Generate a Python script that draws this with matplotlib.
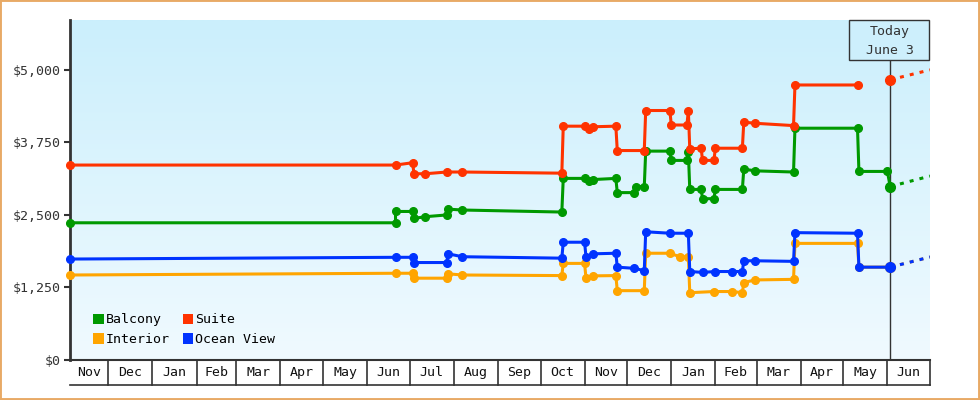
import numpy as np
import matplotlib
matplotlib.use("Agg")
import matplotlib.pyplot as plt
import matplotlib.dates as mdates
from matplotlib.patches import Rectangle, Patch
from matplotlib.colors import LinearSegmentedColormap

plt.rcParams['font.family'] = ['DejaVu Sans Mono', 'DejaVu Sans']

# ---- price history ----
suite_dates = ["2022-11-04", "2023-06-21", "2023-07-03", "2023-07-04", "2023-07-12", "2023-07-27",
               "2023-08-07", "2023-10-16", "2023-10-17", "2023-11-01", "2023-11-04", "2023-11-07",
               "2023-11-23", "2023-11-24", "2023-12-13", "2023-12-14", "2023-12-31", "2024-01-01",
               "2024-01-12", "2024-01-13", "2024-01-14", "2024-01-22", "2024-01-23", "2024-01-31",
               "2024-02-01", "2024-02-20", "2024-02-21", "2024-02-29", "2024-03-27", "2024-03-28",
               "2024-05-11"]
suite_prices = [3360, 3360, 3400, 3210, 3210, 3240, 3240, 3220, 4030, 4030, 3980, 4020, 4030,
                3610, 3610, 4300, 4300, 4050, 4050, 4300, 3640, 3650, 3440, 3440, 3650, 3650,
                4100, 4080, 4040, 4740, 4740]

balcony_dates = ["2022-11-04", "2023-06-21", "2023-06-21", "2023-07-03", "2023-07-04", "2023-07-12",
                 "2023-07-27", "2023-07-28", "2023-08-07", "2023-10-16", "2023-10-17", "2023-11-01",
                 "2023-11-04", "2023-11-07", "2023-11-23", "2023-11-24", "2023-12-06", "2023-12-07",
                 "2023-12-13", "2023-12-14", "2023-12-31", "2024-01-01", "2024-01-12", "2024-01-13",
                 "2024-01-14", "2024-01-22", "2024-01-23", "2024-01-31", "2024-02-01", "2024-02-20",
                 "2024-02-21", "2024-02-29", "2024-03-27", "2024-03-28", "2024-05-11", "2024-05-12",
                 "2024-06-01", "2024-06-03"]
balcony_prices = [2365, 2365, 2560, 2560, 2440, 2470, 2500, 2600, 2585, 2550, 3130, 3130, 3090,
                  3110, 3130, 2885, 2885, 2990, 2990, 3600, 3600, 3440, 3440, 3590, 2940, 2940,
                  2780, 2780, 2940, 2940, 3290, 3260, 3240, 3995, 3995, 3250, 3250, 2990]

ocean_dates = ["2022-11-04", "2023-06-21", "2023-07-03", "2023-07-04", "2023-07-27", "2023-07-28",
               "2023-08-07", "2023-10-16", "2023-10-17", "2023-11-01", "2023-11-02", "2023-11-07",
               "2023-11-23", "2023-11-24", "2023-12-06", "2023-12-13", "2023-12-14", "2023-12-31",
               "2024-01-13", "2024-01-14", "2024-01-23", "2024-02-01", "2024-02-13", "2024-02-20",
               "2024-02-21", "2024-02-29", "2024-03-27", "2024-03-28", "2024-05-11", "2024-05-12",
               "2024-06-03"]
ocean_prices = [1740, 1770, 1770, 1680, 1680, 1830, 1780, 1755, 2030, 2030, 1780, 1830, 1840,
                1600, 1580, 1540, 2210, 2185, 2185, 1525, 1510, 1525, 1525, 1525, 1710, 1710,
                1700, 2195, 2185, 1600, 1600]

interior_dates = ["2022-11-04", "2023-06-21", "2023-07-03", "2023-07-04", "2023-07-27", "2023-07-28",
                  "2023-08-07", "2023-10-16", "2023-10-17", "2023-11-01", "2023-11-02", "2023-11-07",
                  "2023-11-23", "2023-11-24", "2023-12-13", "2023-12-14", "2023-12-31", "2024-01-07",
                  "2024-01-13", "2024-01-14", "2024-01-31", "2024-02-13", "2024-02-20", "2024-02-21",
                  "2024-02-29", "2024-03-27", "2024-03-28", "2024-05-11", "2024-05-12", "2024-06-03"]
interior_prices = [1465, 1495, 1495, 1410, 1410, 1485, 1465, 1455, 1665, 1665, 1410, 1450, 1455,
                   1195, 1195, 1840, 1840, 1780, 1780, 1160, 1180, 1180, 1160, 1335, 1380, 1390,
                   2010, 2010, 1600, 1600]

# today's price and where the projection ends (right edge)
today = "2024-06-03"
proj_end = "2024-07-01"
cabins = ["Interior", "Ocean View", "Balcony", "Suite"]
today_prices = [1600, 1600, 2990, 4830]
proj_prices = [1775, 1775, 3170, 5000]

y_ticks = [0, 1250, 2500, 3750, 5000]

colors = {"Balcony": "#009900", "Suite": "#ff3300", "Interior": "#ffa500", "Ocean View": "#0033ff"}
history = {
    "Interior": (interior_dates, interior_prices),
    "Ocean View": (ocean_dates, ocean_prices),
    "Balcony": (balcony_dates, balcony_prices),
    "Suite": (suite_dates, suite_prices),
}

def dnum(d):
    return mdates.date2num(np.array(d, dtype="datetime64[D]"))

xmin, xmax = dnum("2022-11-04"), dnum(proj_end)
t_num = dnum(today)
dark = "#333333"

fig = plt.figure(figsize=(9.8, 4.0), dpi=100)
ax = fig.add_axes([70 / 980, 40 / 400, 860 / 980, 340 / 400])

# background gradient
cmap = LinearSegmentedColormap.from_list("bg", ["#f0faff", "#cbeffc"])
grad = np.linspace(0, 1, 256).reshape(-1, 1)
ax.imshow(grad, extent=[0, 1, 0, 1], transform=ax.transAxes, aspect="auto",
          cmap=cmap, origin="lower", zorder=0)

# today line
trans = ax.get_xaxis_transform()
ax.plot([t_num, t_num], [0, 0.882], transform=trans, color=dark, lw=1, zorder=1.5)

for name, tp, pp in zip(cabins, today_prices, proj_prices):
    d, p = history[name]
    c = colors[name]
    ax.plot(dnum(d), p, color=c, lw=2.2, marker="o", ms=5.5, mec=c, zorder=3,
            clip_on=False, solid_joinstyle="miter")
    ax.plot([t_num, xmax], [tp, pp], color=c, lw=2.2, ls=(0, (1.3, 2.0)), zorder=3)
    ax.plot([t_num], [tp], color=c, marker="o", ms=7, zorder=3.5)

ax.set_xlim(xmin, xmax)
ax.set_ylim(0, 5860)
ax.set_yticks(y_ticks)
ax.set_yticklabels(["${:,}".format(v) for v in y_ticks])
ax.tick_params(axis="y", length=4.5, width=1.5, colors=dark, labelsize=9.5, pad=2)
ax.set_xticks([])
for s in ["top", "right"]:
    ax.spines[s].set_visible(False)
ax.spines["left"].set_linewidth(2.0)
ax.spines["left"].set_color(dark)
ax.spines["bottom"].set_linewidth(1.5)
ax.spines["bottom"].set_color(dark)

# month boxes under the axis
months = np.arange(np.datetime64("2022-11"), np.datetime64("2024-08"), dtype="datetime64[M]")
edges = dnum(months.astype("datetime64[D]"))
box_y = -25 / 340
for i in range(len(months) - 1):
    l, r = max(edges[i], xmin), min(edges[i + 1], xmax)
    if r <= l:
        continue
    lab = months[i].astype(object).strftime("%b")
    ax.text((l + r) / 2, box_y / 2, lab, transform=trans, ha="center", va="center",
            fontsize=9.5, color="#111111")
    if edges[i + 1] <= xmax:
        ax.plot([r, r], [0, box_y], transform=trans, color=dark, lw=1.2, clip_on=False)
ax.plot([xmin, xmax], [box_y, box_y], transform=trans, color=dark, lw=1.2, clip_on=False)

# "Today" box
ax.add_patch(Rectangle((779 / 860, 300 / 340), 80 / 860, 40 / 340, transform=ax.transAxes,
                       facecolor="#cdeffc", edgecolor=dark, lw=1, clip_on=False, zorder=5))
ax.text(t_num, 328 / 340, "Today", transform=trans, ha="center", va="center",
        fontsize=9.5, color=dark, zorder=6)
ax.text(t_num, 310 / 340, "June 3", transform=trans, ha="center", va="center",
        fontsize=9.5, color=dark, zorder=6)

# legend: two columns, Balcony/Suite on top row
order = ["Balcony", "Interior", "Suite", "Ocean View"]
handles = [Patch(facecolor=colors[n], edgecolor="none", label=n) for n in order]
ax.legend(handles=handles, loc="lower left", bbox_to_anchor=(0.013, 0.006), ncol=2,
          frameon=False, fontsize=9.5, handlelength=0.8, handleheight=0.8,
          handletextpad=0.15, columnspacing=1.0, labelspacing=0.5)

# orange frame around the figure
fig.patches.append(Rectangle((0, 0), 1, 1, transform=fig.transFigure, fill=False,
                             edgecolor="#e8aa66", lw=2.8))

fig.savefig("out.png", dpi=100)
